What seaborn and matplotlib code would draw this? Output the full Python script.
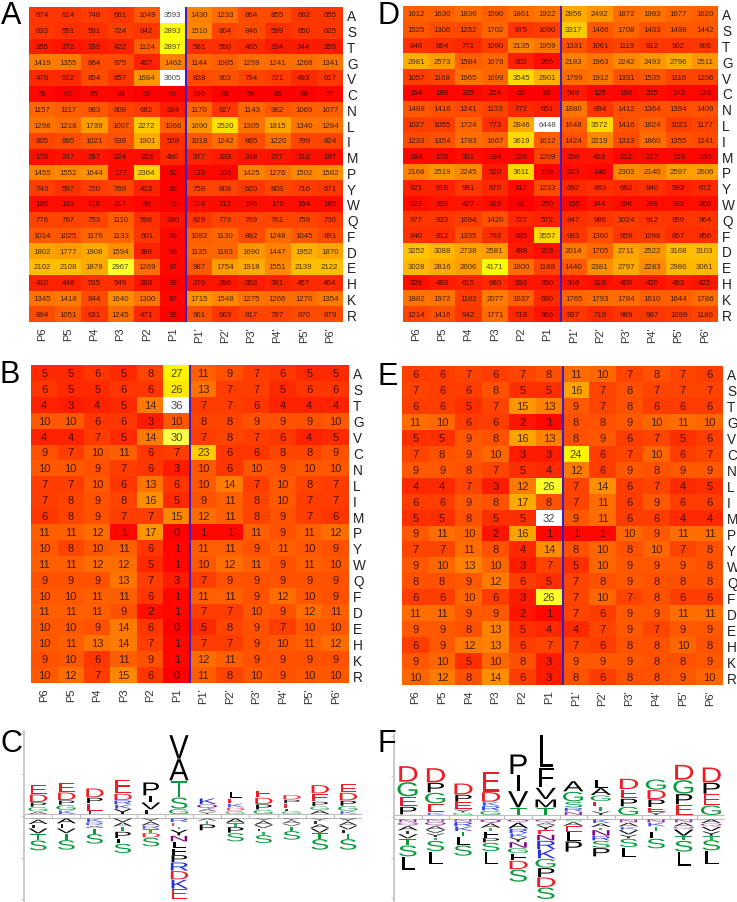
import numpy as np
import seaborn as sns
import matplotlib
matplotlib.use('Agg')
import matplotlib.pyplot as plt
import matplotlib.colors as mcolors
import matplotlib.patheffects as path_effects
from matplotlib.transforms import Affine2D

residues = list('ASTGVCNLIMPYWQFDEHKR')
positions = ['P6', 'P5', 'P4', 'P3', 'P2', 'P1', "P1'", "P2'", "P3'", "P4'", "P5'", "P6'"]

counts_a = [
    [674, 614, 748, 661, 1049, 3593, 1430, 1233, 864, 855, 662, 655],
    [633, 551, 591, 724, 642, 2893, 1510, 804, 846, 599, 650, 625],
    [355, 272, 339, 422, 1124, 2897, 581, 550, 465, 334, 344, 359],
    [1419, 1355, 864, 875, 407, 1462, 1144, 1085, 1259, 1241, 1268, 1341],
    [478, 512, 854, 657, 1684, 3605, 838, 903, 794, 721, 493, 617],
    [76, 63, 85, 93, 53, 57, 196, 49, 56, 66, 69, 77],
    [1157, 1117, 983, 808, 682, 334, 1170, 627, 1143, 982, 1069, 1077],
    [1298, 1218, 1739, 1007, 2272, 1066, 1690, 2520, 1305, 1815, 1340, 1284],
    [805, 895, 1021, 938, 1901, 558, 1018, 1242, 885, 1220, 799, 824],
    [179, 247, 287, 224, 223, 480, 377, 338, 248, 277, 212, 197],
    [1455, 1552, 1644, 177, 2364, 52, 139, 106, 1425, 1276, 1502, 1582],
    [743, 597, 720, 769, 413, 65, 758, 808, 620, 803, 716, 671],
    [195, 193, 210, 217, 85, 15, 174, 212, 196, 170, 194, 185],
    [776, 797, 753, 1110, 596, 280, 629, 779, 769, 761, 759, 736],
    [1014, 1025, 1176, 1133, 601, 99, 1082, 1130, 882, 1248, 1045, 891],
    [1802, 1777, 1908, 1594, 386, 98, 1135, 1163, 1690, 1447, 1952, 1870],
    [2102, 2108, 1878, 2967, 1269, 97, 987, 1754, 1918, 1551, 2139, 2122],
    [410, 448, 535, 549, 288, 39, 276, 296, 353, 391, 457, 464],
    [1345, 1418, 844, 1640, 1300, 87, 1715, 1548, 1275, 1266, 1270, 1354],
    [894, 1051, 631, 1245, 471, 33, 961, 663, 817, 787, 870, 879],
]
counts_d = [
    [1612, 1630, 1836, 1590, 1861, 1922, 2856, 2492, 1872, 1983, 1677, 1620],
    [1525, 1306, 1252, 1702, 975, 1090, 3317, 1466, 1708, 1433, 1498, 1442],
    [846, 864, 771, 1090, 2135, 1959, 1331, 1061, 1119, 912, 902, 906],
    [2981, 2573, 1584, 1676, 602, 266, 2183, 1963, 2242, 2493, 2796, 2511],
    [1057, 1168, 1965, 1699, 3545, 2901, 1799, 1912, 1331, 1535, 1116, 1206],
    [164, 188, 205, 224, 65, 65, 549, 125, 168, 225, 143, 153],
    [1488, 1416, 1241, 1133, 772, 651, 1880, 894, 1412, 1364, 1394, 1409],
    [1027, 1055, 1724, 773, 2846, 6448, 1648, 3572, 1416, 1624, 1021, 1177],
    [1233, 1354, 1783, 1667, 3619, 1612, 1424, 2219, 1313, 1860, 1355, 1241],
    [184, 178, 301, 184, 196, 1209, 358, 428, 212, 217, 156, 160],
    [2168, 2519, 2245, 520, 3611, 139, 223, 146, 2303, 2140, 2597, 2606],
    [621, 618, 981, 670, 317, 1233, 692, 863, 682, 840, 583, 672],
    [322, 353, 427, 326, 92, 250, 155, 344, 296, 289, 303, 266],
    [977, 933, 1094, 1420, 727, 572, 847, 986, 1024, 912, 959, 964],
    [840, 812, 1335, 793, 395, 3557, 983, 1360, 959, 1098, 857, 856],
    [3252, 3088, 2738, 2581, 498, 279, 2014, 1705, 2711, 2522, 3168, 3103],
    [3028, 2816, 2606, 4171, 1800, 1188, 1440, 2381, 2797, 2283, 2986, 3061],
    [326, 488, 615, 680, 336, 350, 346, 318, 409, 420, 493, 422],
    [1882, 1972, 1102, 2077, 1637, 690, 1765, 1793, 1784, 1610, 1644, 1786],
    [1214, 1416, 942, 1771, 718, 366, 937, 719, 989, 987, 1099, 1186],
]
percent_b = [
    [5, 5, 6, 5, 8, 27, 11, 9, 7, 6, 5, 5],
    [6, 5, 5, 6, 6, 26, 13, 7, 7, 5, 6, 6],
    [4, 3, 4, 5, 14, 36, 7, 7, 6, 4, 4, 4],
    [10, 10, 6, 6, 3, 10, 8, 8, 9, 9, 9, 10],
    [4, 4, 7, 5, 14, 30, 7, 8, 7, 6, 4, 5],
    [9, 7, 10, 11, 6, 7, 23, 6, 6, 8, 8, 9],
    [10, 10, 9, 7, 6, 3, 10, 6, 10, 9, 10, 10],
    [7, 7, 10, 6, 13, 6, 10, 14, 7, 10, 8, 7],
    [7, 8, 9, 8, 16, 5, 9, 11, 8, 10, 7, 7],
    [6, 8, 9, 7, 7, 15, 12, 11, 8, 9, 7, 6],
    [11, 11, 12, 1, 17, 0, 1, 1, 11, 9, 11, 12],
    [10, 8, 10, 11, 6, 1, 11, 11, 9, 11, 10, 9],
    [11, 11, 12, 12, 5, 1, 10, 12, 11, 9, 11, 10],
    [9, 9, 9, 13, 7, 3, 7, 9, 9, 9, 9, 9],
    [10, 10, 11, 11, 6, 1, 11, 11, 9, 12, 10, 9],
    [11, 11, 11, 9, 2, 1, 7, 7, 10, 9, 12, 11],
    [10, 10, 9, 14, 6, 0, 5, 8, 9, 7, 10, 10],
    [10, 11, 13, 14, 7, 1, 7, 7, 9, 10, 11, 12],
    [9, 10, 6, 11, 9, 1, 12, 11, 9, 9, 9, 9],
    [10, 12, 7, 15, 6, 0, 11, 8, 10, 9, 10, 10],
]
percent_e = [
    [6, 6, 7, 6, 7, 8, 11, 10, 7, 8, 7, 6],
    [7, 6, 6, 8, 5, 5, 16, 7, 8, 7, 7, 7],
    [6, 6, 5, 7, 15, 13, 9, 7, 8, 6, 6, 6],
    [11, 10, 6, 6, 2, 1, 8, 8, 9, 10, 11, 10],
    [5, 5, 9, 8, 16, 13, 8, 9, 6, 7, 5, 6],
    [7, 8, 9, 10, 3, 3, 24, 6, 7, 10, 6, 7],
    [9, 9, 8, 7, 5, 4, 12, 6, 9, 8, 9, 9],
    [4, 4, 7, 3, 12, 26, 7, 14, 6, 7, 4, 5],
    [6, 6, 9, 8, 17, 8, 7, 11, 6, 9, 6, 6],
    [5, 5, 8, 5, 5, 32, 9, 11, 6, 6, 4, 4],
    [9, 11, 10, 2, 16, 1, 1, 1, 10, 9, 11, 11],
    [7, 7, 11, 8, 4, 14, 8, 10, 8, 10, 7, 8],
    [9, 10, 13, 10, 3, 7, 5, 10, 9, 9, 9, 8],
    [8, 8, 9, 12, 6, 5, 7, 8, 9, 8, 8, 8],
    [6, 6, 10, 6, 3, 26, 7, 10, 7, 8, 6, 6],
    [11, 11, 9, 9, 2, 1, 7, 6, 9, 9, 11, 11],
    [9, 9, 8, 13, 5, 4, 4, 7, 9, 7, 9, 9],
    [6, 9, 12, 13, 6, 7, 7, 6, 8, 8, 10, 8],
    [9, 10, 5, 10, 8, 3, 9, 9, 9, 8, 8, 9],
    [10, 12, 8, 14, 6, 3, 8, 6, 8, 8, 9, 10],
]

# sequence logos: letters listed from the top of each stack downwards
logo_c_up_letters = ['EDPGA', 'EDPGK', 'DPEL', 'EDRKY', 'PIVL', 'VATSG',
                     'KQAY', 'LEKDG', 'EDPG', 'DPEFG', 'DEPGA', 'EDPGK']
logo_c_up_heights = [[28, 24, 14, 14, 8], [28, 24, 14, 16, 12], [28, 17, 23, 10],
                     [43, 20, 13, 13, 16], [40, 20, 22, 14], [72, 65, 50, 35, 16],
                     [18, 14, 8, 8], [20, 16, 12, 10, 10], [22, 20, 16, 14],
                     [14, 12, 14, 8, 10], [26, 24, 14, 12, 12], [26, 24, 16, 15, 10]]
logo_c_down_letters = ['YALVTS', 'ALVTS', 'KRATS', 'VATPLS', 'YARTDS', 'RETYNLFPRDKE',
                       'ATP', 'ATPS', 'YAVLTS', 'YAVTS', 'YLAVTS', 'YAVLTS']
logo_c_down_heights = [[4, 14, 12, 16, 20, 31], [16, 14, 15, 20, 30], [12, 10, 8, 17, 30],
                       [12, 13, 15, 20, 16, 29], [10, 12, 10, 12, 14, 27],
                       [12, 12, 10, 18, 18, 20, 20, 22, 26, 26, 28, 30],
                       [8, 10, 19], [14, 12, 18, 26], [8, 12, 10, 10, 10, 25],
                       [6, 10, 8, 14, 27], [8, 10, 12, 14, 18, 33], [10, 12, 12, 12, 16, 33]]
logo_f_up_letters = ['DGEPA', 'DPGEK', 'DPEYG', 'EDKRG', 'PIVT', 'LFVMT',
                     'AGSRN', 'LAGETY', 'DEPG', 'GDPEY', 'DGPE', 'DPEG']
logo_f_up_heights = [[48, 44, 30, 24, 2], [44, 30, 33, 27, 8], [34, 22, 22, 10, 8],
                     [62, 30, 12, 14, 14], [60, 50, 50, 23], [100, 60, 35, 25, 23],
                     [32, 30, 18, 12, 11], [26, 22, 18, 16, 14, 12], [32, 28, 24, 26],
                     [32, 28, 24, 14, 10], [46, 42, 32, 32], [46, 34, 34, 30]]
logo_f_down_letters = ['NQAIVTSL', 'NQAVYTSL', 'NRKTLS', 'QATFPSL', 'QARKYNGFDS', 'QAYENRKGPDS',
                       'SAELP', 'KATNRSP', 'NAKVYSL', 'NKTLS', 'NAQVTSL', 'AQVYTSL']
logo_f_down_heights = [[10, 10, 14, 10, 14, 20, 34, 40], [8, 12, 12, 10, 12, 10, 32, 40],
                       [8, 14, 14, 16, 26, 32], [12, 14, 10, 20, 14, 26, 40],
                       [10, 18, 14, 12, 14, 18, 16, 22, 26, 38],
                       [10, 8, 14, 14, 18, 26, 28, 28, 28, 30, 36],
                       [8, 12, 18, 28, 32], [12, 12, 8, 18, 14, 22, 26], [10, 12, 10, 14, 12, 26, 30],
                       [10, 12, 14, 22, 30], [10, 12, 8, 20, 14, 34, 42], [12, 10, 14, 14, 12, 32, 42]]

sns.set_theme(style='white')
plt.rcParams['font.family'] = ['Liberation Sans', 'DejaVu Sans']

W, H = 737, 903
fig = plt.figure(figsize=(W / 100, H / 100), dpi=100)

# red -> yellow -> white, like the "hot" map without its dark end
hot_map = mcolors.LinearSegmentedColormap.from_list(
    'red_hot', [(0, '#ff0000'), (0.8, '#ffff00'), (0.98, '#ffffff'), (1, '#ffffff')], N=48)

residue_colors = {'D': '#ee1c25', 'E': '#ee1c25', 'K': '#2030e0', 'R': '#2030e0', 'H': '#2030e0',
                  'G': '#0a9a3c', 'S': '#0a9a3c', 'T': '#0a9a3c', 'N': '#800080', 'Q': '#800080'}


class StretchGlyph(path_effects.AbstractPathEffect):
    # logo letters keep their width but take the height of their stack slot
    def __init__(self, height_px):
        super().__init__()
        self.height_px = height_px

    def draw_path(self, renderer, gc, tpath, affine, rgbFace=None):
        ext = tpath.get_extents()
        sy = self.height_px / (ext.height * affine.get_matrix()[1, 1])
        stretched = Affine2D().translate(0, -ext.y0).scale(1, sy) + affine
        renderer.draw_path(gc, tpath, stretched, rgbFace)


def px_axes(left, top, right, bottom):
    return fig.add_axes([left / W, 1 - bottom / H, (right - left) / W, (bottom - top) / H])


def draw_heatmap(data, box, vmax, annot_size):
    ax = px_axes(*box)
    sns.heatmap(np.array(data), ax=ax, cmap=hot_map, vmin=0, vmax=vmax, cbar=False,
                annot=True, fmt='d',
                annot_kws={'fontsize': annot_size, 'color': 'black', 'alpha': 0.72},
                xticklabels=positions, yticklabels=residues)
    ax.yaxis.tick_right()
    ax.tick_params(axis='x', length=0, pad=3, labelsize=8, labelcolor='#333333', rotation=90)
    ax.tick_params(axis='y', length=0, pad=3, labelsize=9.8, labelcolor='#222222', rotation=0)
    ax.axvline(6, color='#3a1fc8', lw=1.5)
    return ax


def draw_logo(box, base_px, up_letters, up_heights, down_letters, down_heights, fontsize, tick_step):
    left, top, right, bottom = box
    ax = px_axes(left, top, right, bottom)
    ax.set_xlim(0, 12)
    ax.set_ylim(-(bottom - base_px) * 3, (base_px - top) * 3)
    ax.bar(np.arange(12) + 0.5, 12, bottom=-6, width=1, color='white', edgecolor='#bdbdbd', lw=0.8)
    for i in range(12):
        y = 6
        for letter, h in zip(up_letters[i][::-1], up_heights[i][::-1]):
            add_letter(ax, i + 0.5, y, letter, h, fontsize)
            y += h
        y = -6
        for letter, h in zip(down_letters[i], down_heights[i]):
            y -= h
            add_letter(ax, i + 0.5, y, letter, h, fontsize)
    sns.despine(ax=ax, top=True, right=True, bottom=True)
    ax.spines['left'].set_color('#c4c4c4')
    ax.set_xticks([])
    ax.set_yticks(np.arange(-2, 3) * tick_step)
    ax.set_yticklabels([])
    ax.tick_params(axis='y', left=True, length=2, width=0.8, color='#c4c4c4')
    ax.patch.set_alpha(0)
    return ax


def add_letter(ax, x, y, letter, h, fontsize):
    # small letters are washed out in the logo
    alpha = min(1, 0.45 + h / 30)
    ax.text(x, y, letter, ha='center', va='baseline', fontsize=fontsize, alpha=alpha,
            color=residue_colors.get(letter, 'black'),
            path_effects=[StretchGlyph(max(h - 1.5, 1) / 3)])


draw_heatmap(counts_a, (29, 8, 343, 323), 3600, 5.7)
draw_heatmap(counts_d, (403, 7, 718, 323), 5300, 5.7)
draw_heatmap(percent_b, (31, 366, 349, 684), 36, 8)
draw_heatmap(percent_e, (402, 367, 723, 686), 32, 8)

draw_logo((24, 732, 362, 902), 817, logo_c_up_letters, logo_c_up_heights,
          logo_c_down_letters, logo_c_down_heights, 21, 125)
draw_logo((394, 735, 725, 902), 818, logo_f_up_letters, logo_f_up_heights,
          logo_f_down_letters, logo_f_down_heights, 22, 122)

panel_labels = ['A', 'D', 'B', 'E', 'C', 'F']
label_x = [1, 377, 0, 378, 0, 378]
label_y = [24, 24, 383, 385, 752, 752]
for s, x, y in zip(panel_labels, label_x, label_y):
    fig.text(x / W, 1 - y / H, s, fontsize=22, color='black', va='baseline', ha='left')

plt.savefig('out.png', dpi=100)
plt.close()
